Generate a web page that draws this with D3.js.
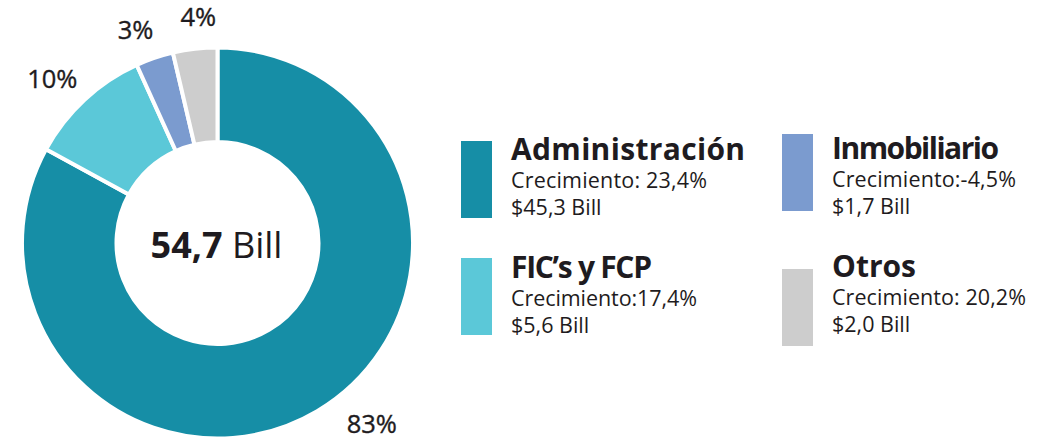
<!DOCTYPE html>
<html>
<head>
<meta charset="utf-8">
<script src="https://cdn.jsdelivr.net/npm/d3@7"></script>
<style>
  html, body { margin: 0; padding: 0; background: #ffffff; }
  svg { display: block; font-family: "Open Sans", "Noto Sans", sans-serif; }
</style>
</head>
<body>
<svg id="chart" width="1054" height="441"></svg>
<script>
// ---- data ----
const categories = ["Administración", "FIC’s y FCP", "Inmobiliario", "Otros"];
const values = [45.3, 5.6, 1.7, 2.0];               // $ Bill
const growthLabels = ["Crecimiento: 23,4%", "Crecimiento:17,4%", "Crecimiento:-4,5%", "Crecimiento: 20,2%"];
const valueLabels = ["$45,3 Bill", "$5,6 Bill", "$1,7 Bill", "$2,0 Bill"];
const totalBold = "54,7";
const totalUnit = "Bill";

// ---- style / layout ----
const colors = ["#168EA6", "#5BC8D8", "#7B9BCF", "#CDCDCD"];
const textColor = "#1E1B20";
const cx = 217.5, cy = 243, outerR = 195.5, innerR = 101;

const svg = d3.select("#chart");
const g = svg.append("g").attr("transform", `translate(${cx},${cy})`);

const pie = d3.pie().sort(null).value(d => d);
const arcs = pie(values);
const arc = d3.arc().innerRadius(innerR).outerRadius(outerR);
const total = d3.sum(values);

g.selectAll("path.slice")
  .data(arcs)
  .join("path")
  .attr("class", "slice")
  .attr("d", arc)
  .attr("fill", (d, i) => colors[i])
  .attr("stroke", "#ffffff")
  .attr("stroke-width", 4)
  .attr("stroke-linejoin", "miter");

// percentage labels positioned along a label radius at (adjusted) mid angles
const labelRadius = [238, 233, 228, 227];
const labelAngleShift = [-0.17, -0.04, -0.04, 0.03]; // radians
g.selectAll("text.pct")
  .data(arcs)
  .join("text")
  .attr("class", "pct")
  .attr("x", (d, i) => labelRadius[i] * Math.sin((d.startAngle + d.endAngle) / 2 + labelAngleShift[i]))
  .attr("y", (d, i) => -labelRadius[i] * Math.cos((d.startAngle + d.endAngle) / 2 + labelAngleShift[i]))
  .attr("text-anchor", "middle")
  .attr("dy", "0.36em")
  .attr("font-size", 25.5)
  .attr("font-weight", 500)
  .attr("stroke", textColor)
  .attr("stroke-width", 0.35)
  .attr("fill", textColor)
  .text(d => Math.round(d.value / total * 100) + "%");

// center total
const ct = g.append("text")
  .attr("x", -1)
  .attr("y", 15)
  .attr("text-anchor", "middle")
  .attr("font-size", 36)
  .attr("fill", textColor);
ct.append("tspan").attr("font-weight", 700).text(totalBold);
ct.append("tspan").attr("font-weight", 400).text(" " + totalUnit);

// legend
const legendPos = [
  { x: 461, swTop: 141, base: 160 },
  { x: 461, swTop: 258, base: 278 },
  { x: 782, swTop: 134, base: 159 },
  { x: 782, swTop: 269, base: 277 }
];
const titleWidth = [234, 141, 167, 84];
const growthWidth = [196, 186, 184, 194];

const leg = svg.append("g").selectAll("g.item")
  .data(categories)
  .join("g")
  .attr("class", "item");

leg.append("rect")
  .attr("x", (d, i) => legendPos[i].x)
  .attr("y", (d, i) => legendPos[i].swTop)
  .attr("width", 31)
  .attr("height", 77)
  .attr("fill", (d, i) => colors[i]);

leg.append("text")
  .attr("x", (d, i) => legendPos[i].x + 50)
  .attr("y", (d, i) => legendPos[i].base)
  .attr("font-size", 30)
  .attr("font-weight", 700)
  .attr("textLength", (d, i) => titleWidth[i])
  .attr("fill", textColor)
  .text(d => d);

leg.append("text")
  .attr("x", (d, i) => legendPos[i].x + 50)
  .attr("y", (d, i) => legendPos[i].base + 28)
  .attr("font-size", 21.5)
  .attr("textLength", (d, i) => growthWidth[i])
  .attr("fill", textColor)
  .text((d, i) => growthLabels[i]);

leg.append("text")
  .attr("x", (d, i) => legendPos[i].x + 50)
  .attr("y", (d, i) => legendPos[i].base + 55)
  .attr("font-size", 21.5)
  .attr("fill", textColor)
  .text((d, i) => valueLabels[i]);
</script>
</body>
</html>
